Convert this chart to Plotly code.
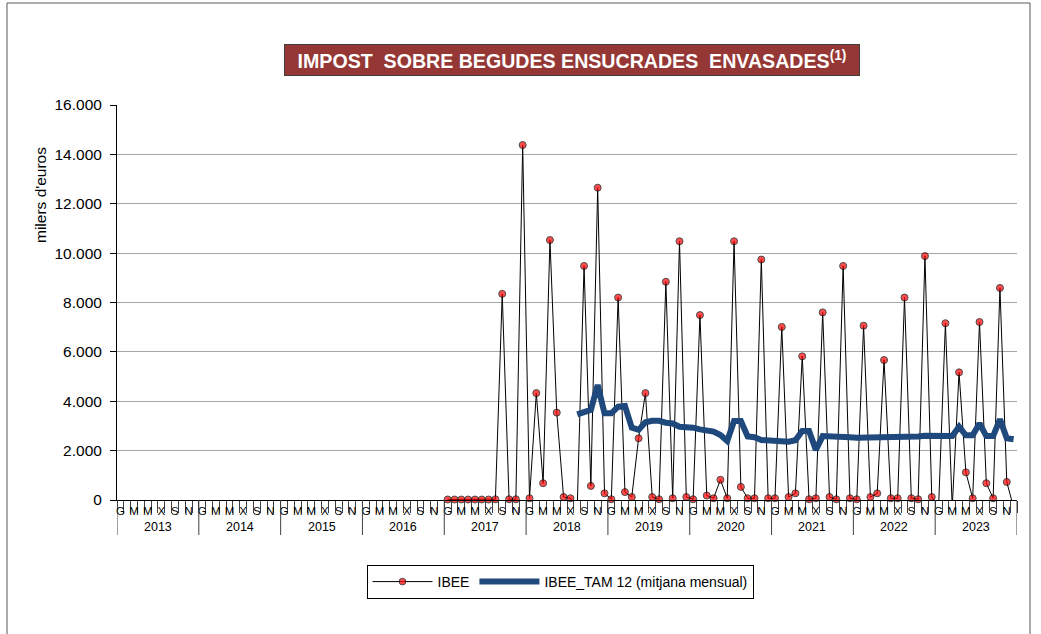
import plotly.graph_objects as go

# ---------------- data ----------------
years = list(range(2013, 2024))
month_letters = ["G", "F", "M", "A", "M", "J", "X", "A", "S", "O", "N", "D"]
labeled_months = [0, 2, 4, 6, 8, 10]  # G M M X S N

ibee_start_year, ibee_start_month = 2017, 1
ibee = [
    20, 20, 20, 20, 20, 20, 20, 30, 8350, 30, 30, 14380,          # 2017
    70, 4330, 680, 10530, 3540, 120, 70, -300, 9480, 570, 12650, 270,  # 2018
    30, 8200, 320, 120, 2500, 4330, 120, 30, 8840, 70, 10480, 120,     # 2019
    30, 7490, 180, 70, 820, 70, 10480, 530, 70, 70, 9740, 70,          # 2020
    70, 7010, 120, 270, 5820, 30, 70, 7600, 120, 30, 9480, 70,         # 2021
    30, 7060, 120, 270, 5670, 70, 70, 8200, 70, 30, 9880, 120,         # 2022
    -300, 7160, -300, 5170, 1120, 70, 7210, 680, 70, 8590, 730, -300,  # 2023
]

tam_start_year, tam_start_month = 2018, 8
tam12 = [
    3470, 3540, 3650, 4660, 3510,                                        # 2018
    3510, 3780, 3810, 2930, 2840, 3150, 3210, 3210, 3130, 3100, 2970, 2970,  # 2019
    2930, 2860, 2810, 2770, 2630, 2390, 3200, 3200, 2570, 2540, 2430, 2400,  # 2020
    2400, 2360, 2360, 2420, 2800, 2800, 2030, 2590, 2590, 2590, 2540, 2540,  # 2021
    2520, 2520, 2520, 2520, 2520, 2520, 2520, 2540, 2570, 2570, 2600, 2600,  # 2022
    2610, 2610, 2590, 2970, 2620, 2620, 3100, 2590, 2590, 3270, 2500, 2460,  # 2023
]

# ---------------- geometry helpers ----------------
n_months = len(years) * 12


def month_index(y, m):
    return (y - years[0]) * 12 + (m - 1)


ibee_x = [month_index(ibee_start_year, ibee_start_month) + i for i in range(len(ibee))]
tam_x = [month_index(tam_start_year, tam_start_month) + i for i in range(len(tam12))]

W, H = 1041, 634
ML, MR, MT, MB = 117, 24, 105, 134
PW, PH = W - ML - MR, H - MT - MB


def py(pix):  # pixel y -> paper y
    return (H - MB - pix) / PH


def px(pix):  # pixel x -> paper x
    return (pix - ML) / PW


fig = go.Figure()

fig.add_trace(go.Scatter(
    x=ibee_x, y=ibee, name="IBEE", mode="lines+markers",
    line=dict(color="black", width=1),
    marker=dict(color="red", size=[0 if v < 0 else 7 for v in ibee],
                line=dict(color="black", width=1)),
    cliponaxis=False,
))
fig.add_trace(go.Scatter(
    x=tam_x, y=tam12, name="IBEE_TAM 12 (mitjana mensual)", mode="lines",
    line=dict(color="#1F497D", width=6),
))

tickvals = [y_i * 12 + m for y_i in range(len(years)) for m in labeled_months]
ticktext = [month_letters[m] for y_i in range(len(years)) for m in labeled_months]

fig.update_layout(
    width=W, height=H, autosize=False,
    margin=dict(l=ML, r=MR, t=MT, b=MB, pad=0),
    paper_bgcolor="white", plot_bgcolor="white",
    separators=",.",
    showlegend=True,
    legend=dict(orientation="h", x=px(560), y=py(582), xanchor="center", yanchor="middle",
                bordercolor="black", borderwidth=1, bgcolor="white",
                font=dict(family="Liberation Sans", size=14, color="black"),
                itemwidth=60, tracegroupgap=0),
    xaxis=dict(range=[-0.5, n_months - 0.5], showgrid=False, zeroline=False,
               showline=True, linecolor="black", linewidth=1,
               tickmode="array", tickvals=tickvals, ticktext=ticktext,
               ticks="", tickfont=dict(family="Liberation Sans", size=11.5, color="black"),
               minor=dict(tickmode="array", tickvals=[k - 0.5 for k in range(n_months + 1)],
                          ticks="outside", ticklen=12, tickcolor="#404040", tickwidth=1,
                          showgrid=False)),
    yaxis=dict(range=[0, 16000], dtick=2000, tickformat=",d", showgrid=True,
               gridcolor="#A6A6A6", gridwidth=1, zeroline=False,
               showline=True, linecolor="black", linewidth=1,
               ticks="outside", ticklen=6, tickcolor="black", ticklabelstandoff=5,
               tickfont=dict(family="Liberation Sans", size=15.5, color="black")),
)

shapes = []
for i in range(len(years) + 1):
    shapes.append(dict(type="line", xref="x", yref="paper", x0=i * 12 - 0.5, x1=i * 12 - 0.5,
                       y0=0, y1=py(535), line=dict(color="#404040", width=1)))
# outer chart border
shapes.append(dict(type="line", xref="paper", yref="paper", x0=px(7), x1=px(1030), y0=py(3), y1=py(3),
                   line=dict(color="#595959", width=1)))
shapes.append(dict(type="line", xref="paper", yref="paper", x0=px(7), x1=px(7), y0=py(3), y1=py(640),
                   line=dict(color="#595959", width=1)))
shapes.append(dict(type="line", xref="paper", yref="paper", x0=px(1030), x1=px(1030), y0=py(3), y1=py(640),
                   line=dict(color="#595959", width=1)))
fig.update_layout(shapes=shapes)

annotations = []
for i, yr in enumerate(years):
    annotations.append(dict(x=i * 12 + 5.5, y=py(527), xref="x", yref="paper", text=str(yr),
                            showarrow=False, font=dict(family="Liberation Sans", size=12.5, color="black"),
                            xanchor="center", yanchor="middle"))
annotations.append(dict(x=px(40), y=py(195), xref="paper", yref="paper", text="milers d'euros",
                        textangle=-90, showarrow=False,
                        font=dict(family="Liberation Sans", size=15.5, color="black"),
                        xanchor="center", yanchor="middle"))
annotations.append(dict(x=px(572), y=py(60), xref="paper", yref="paper",
                        text="<b>IMPOST  SOBRE BEGUDES ENSUCRADES  ENVASADES<sup>(1)</sup></b>",
                        showarrow=False, font=dict(family="Liberation Sans", size=19.6, color="white"),
                        bgcolor="#953735", bordercolor="#3F3F3F", borderwidth=1,
                        width=572, height=28, xanchor="center", yanchor="middle"))
fig.update_layout(annotations=annotations)

fig.write_html("out.html", config={"displayModeBar": False},
               post_script="document.body.style.margin='0';document.body.style.overflow='hidden';")
